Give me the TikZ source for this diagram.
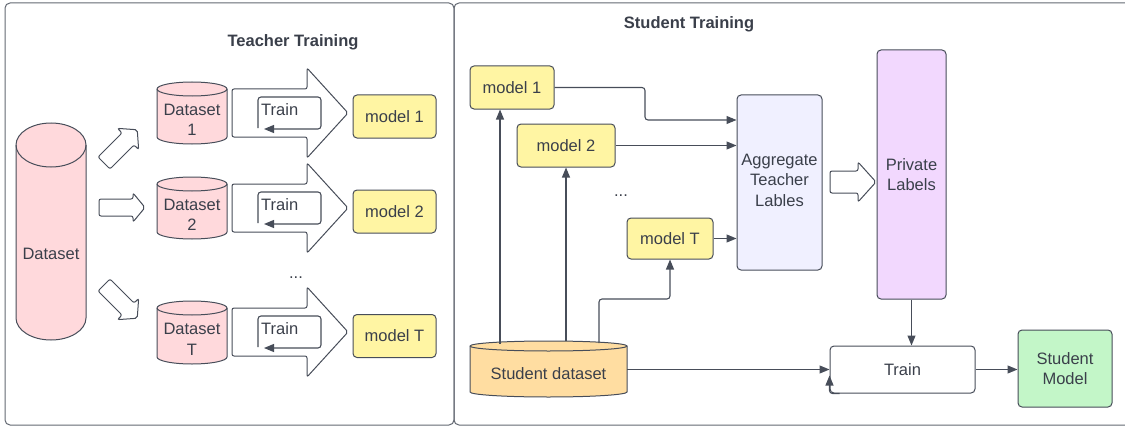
\documentclass[tikz,border=0pt]{standalone}
\usepackage{fontspec}
\setmainfont{Liberation Sans}
\usetikzlibrary{arrows.meta}
\definecolor{ln}{HTML}{474D59}
\definecolor{pinkf}{HTML}{FFD9DC}
\definecolor{yelf}{HTML}{FFF5A3}
\definecolor{lavf}{HTML}{F0F0FF}
\definecolor{purf}{HTML}{F2D8FE}
\definecolor{grnf}{HTML}{C3F6C8}
\definecolor{orgf}{HTML}{FFDDA1}
\definecolor{txc}{HTML}{3A3F4A}
\tikzset{
  txt/.style={font=\fontsize{16.5}{20.5}\selectfont, text=txc, align=center, inner sep=0pt},
  ttl/.style={font=\fontsize{16.5}{20}\selectfont\bfseries, text=txc, inner sep=0pt},
  cylst/.style={draw=ln, line width=1pt},
  boxst/.style={draw=ln, line width=1pt, rounded corners=4pt, inner sep=0pt},
  panel/.style={draw=ln!85, line width=1pt, rounded corners=5pt},
  blk/.style={draw=ln, line width=1pt, fill=white, rounded corners=2pt},
  conn/.style={draw=ln, line width=1.1pt, -{Triangle[length=10pt,width=8pt]}},
  plainln/.style={draw=ln, line width=1.1pt}
}
% cylinder: name, cx, rx, ytop, ybot, ry, fill, text
\newcommand\mycyl[8]{%
  \filldraw[cylst, fill=#7] ({#2-#3},{#4+#6}) -- ({#2-#3},{#5-#6})
     arc[start angle=180,end angle=360,x radius=#3pt,y radius=#6pt]
     -- ({#2+#3},{#4+#6})
     arc[start angle=0,end angle=180,x radius=#3pt,y radius=#6pt] -- cycle;
  \draw[cylst] ({#2-#3},{#4+#6}) arc[start angle=180,end angle=360,x radius=#3pt,y radius=#6pt];
  \node[inner sep=0pt, minimum width={2*#3pt}, minimum height={(#5-#4)*1pt}] (#1) at (#2,{(#4+#5)/2}) {};
  \node[txt] (#1t) at (#2,{(#4+2*#6+#5)/2}) {#8};
}
% block arrow: x, y (tail centre), rotation, length, shaft half, head half, head length
\newcommand\blockarrow[7]{%
  \begin{scope}[shift={(#1,#2)}, rotate=#3]
    \path[blk] (0,{-#5}) -- ({#4-#7},{-#5}) -- ({#4-#7},{-#6}) -- (#4,0)
      -- ({#4-#7},#6) -- ({#4-#7},#5) -- (0,#5) -- cycle;
  \end{scope}
}
\begin{document}
\begin{tikzpicture}[x=1pt,y=-1pt]
\useasboundingbox (0,0) rectangle (1125,428);
% panels
\draw[panel] (5,3) rectangle (454,425);
\draw[panel] (454,3) rectangle (1135,425);
\node[ttl] (tt) at (293,42) {Teacher Training};
\node[ttl] (st) at (689,24) {Student Training};

% ---------- Teacher side ----------
\mycyl{ds}{51}{35}{123}{340}{22}{pinkf}{Dataset}
\mycyl{d1}{192}{35}{82}{144}{7}{pinkf}{Dataset\\1}
\mycyl{d2}{192}{35}{177}{239}{7}{pinkf}{Dataset\\2}
\mycyl{dT}{192}{35}{301}{364}{7}{pinkf}{Dataset\\T}

\blockarrow{104}{163}{45}{47}{8.5}{15}{13}
\blockarrow{99}{207.5}{0}{46}{8.5}{14.5}{12}
\blockarrow{104}{285}{-45}{47}{8.5}{15}{13}

\foreach \yc/\n in {113/1, 208/2, 332/T}{
  \blockarrow{232}{\yc}{0}{116}{24}{45}{41}
  \draw[conn, rounded corners=3pt] (258,\yc+15) -- (258,\yc-16) -- (321,\yc-16) -- (321,\yc+16) -- (264,\yc+16);
  \node[txt, anchor=west] (tr\n) at (261,\yc-3) {Train};
}
\node[boxst, fill=yelf, minimum width=83pt, minimum height=43pt] (t1) at (394.5,116.5) {};
\node[txt] at (t1) {model 1};
\node[boxst, fill=yelf, minimum width=83pt, minimum height=43pt] (t2) at (394.5,211.5) {};
\node[txt] at (t2) {model 2};
\node[boxst, fill=yelf, minimum width=83pt, minimum height=43pt] (tT) at (394.5,336) {};
\node[txt] at (tT) {model T};
\node[txt] (dots1) at (296,278) {...};

% ---------- Student side ----------
\node[boxst, fill=yelf, minimum width=84pt, minimum height=43pt] (m1) at (512,87.5) {};
\node[txt] at (m1) {model 1};
\node[boxst, fill=yelf, minimum width=98pt, minimum height=43pt] (m2) at (566,145.5) {};
\node[txt] at (m2) {model 2};
\node[boxst, fill=yelf, minimum width=86pt, minimum height=41pt] (mT) at (670,238.5) {};
\node[txt] at (mT) {model T};
\node[txt] (dots2) at (621,196) {...};

\node[boxst, fill=lavf, minimum width=85pt, minimum height=175pt] (agg) at (779.5,182.5) {};
\node[txt] at (779.5,180) {Aggregate\\Teacher\\Lables};
\node[boxst, fill=purf, minimum width=69pt, minimum height=249pt] (pl) at (911.5,174.5) {};
\node[txt] at (pl) {Private\\Labels};
\blockarrow{830}{182}{0}{46}{11}{20}{18}

\mycyl{sd}{548.5}{78.5}{341}{397}{5}{orgf}{Student dataset}

\node[boxst, fill=white, minimum width=145pt, minimum height=47pt] (tr) at (902.5,369.5) {};
\node[txt] at (tr) {Train};
\node[boxst, fill=grnf, minimum width=94pt, minimum height=77pt] (sm) at (1065,368.5) {};
\node[txt] at (sm) {Student\\Model};

% connectors
\coordinate (a1) at (500,344);
\coordinate (a3) at (599,343);
\draw[conn] (a1) -- (a1 |- m1.south);
\draw[conn] (m2.south |- sd.north) -- (m2.south);
\draw[conn, rounded corners=3pt] (a3) -- (599,299) -| (mT.south);
\draw[conn, rounded corners=3pt] (m1.east) -- (645,87.5) -- (645,120) -- (agg.west |- 0,120);
\draw[conn] (m2.east) -- (agg.west |- m2.east);
\draw[conn] (mT.east) -- (agg.west |- mT.east);
\draw[conn] (pl.south) -- (pl.south |- tr.north);
\draw[conn] (sd.east |- tr.west) -- (tr.west);
\draw[conn] (tr.east) -- (sm.west |- tr.east);
\draw[conn, rounded corners=3pt] ([xshift=10pt]tr.south west) -| ([yshift=18pt]tr.south west);
\end{tikzpicture}
\end{document}
